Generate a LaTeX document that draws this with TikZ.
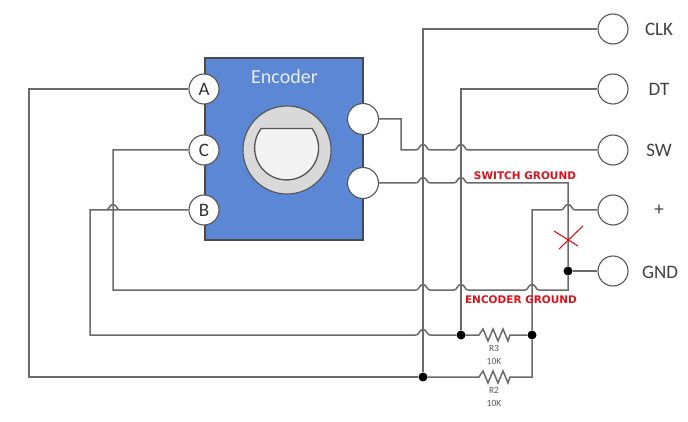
\documentclass[tikz,border=0pt]{standalone}
\usepackage{fontspec}
\setmainfont{Carlito}
\newfontfamily\redfont{DejaVu Sans}
\definecolor{wirecol}{HTML}{6A6A6A}
\definecolor{boxblue}{HTML}{5B87D5}
\definecolor{redlabel}{HTML}{E0101A}
\tikzset{
  wire/.style={draw=wirecol, line width=1.5pt, line join=miter},
  portcirc/.style={circle, draw=wirecol!80!black, line width=1.1pt, fill=white, inner sep=0pt, minimum size=30pt, text=black!80, font=\fontsize{19}{19}\selectfont},
  sidetext/.style={text=black!75, font=\fontsize{19}{19}\selectfont},
  dotnode/.style={circle, fill=black, inner sep=0pt, minimum size=9pt},
  redtext/.style={text=redlabel, font=\redfont\bfseries\fontsize{10.5}{11}\selectfont},
  smalltext/.style={text=black!65, font=\fontsize{9.5}{10}\selectfont}
}
% bump of a wire over a crossing one, going left to right
\newcommand{\hop}[2]{-- (#1-7,#2) .. controls (#1-3.5,#2) and (#1-4,#2-5.5) .. (#1,#2-5.5) .. controls (#1+4,#2-5.5) and (#1+3.5,#2) .. (#1+7,#2)}
% resistor zigzag
\newcommand{\zigzag}[1]{-- (479,#1) -- (483,#1-6) -- (488,#1+6) -- (493,#1-6) -- (498,#1+6) -- (503,#1-6) -- (508,#1+6) -- (510,#1)}

\begin{document}
\begin{tikzpicture}[x=1pt, y=-1pt]
    \useasboundingbox (0,0) rectangle (688,422);

    % encoder body
    \draw[fill=boxblue, draw=wirecol!70!black, line width=1.2pt] (205,58) rectangle (363,240);
    \node[text=white!85!boxblue, font=\fontsize{20}{20}\selectfont] (encoder) at (284.5,77) {Encoder};
    % knob
    \node[circle, fill=black!15, draw=wirecol!80!black, line width=1.1pt, minimum size=88pt, inner sep=0pt] (knob) at (287,150) {};
    \draw[fill=black!5, draw=wirecol!80!black, line width=1.3pt] (312,128.5) arc[start angle=-37.4, end angle=217.4, radius=32] -- cycle;

    % encoder pins
    \node[portcirc] (pinA) at (204,89) {A};
    \node[portcirc] (pinC) at (204,150) {C};
    \node[portcirc] (pinB) at (204,210) {B};
    \node[portcirc, minimum size=31pt] (pinS) at (363,119) {};
    \node[portcirc, minimum size=31pt] (pinG) at (363,183) {};

    % header pins
    \node[portcirc] (clk) at (613,29) {};
    \node[portcirc] (dt) at (613,89) {};
    \node[portcirc] (sw) at (613,150) {};
    \node[portcirc] (plus) at (613,210) {};
    \node[portcirc] (gnd) at (613,271) {};
    \node[sidetext] (clktext) at (659,29) {CLK};
    \node[sidetext] (dttext) at (659,89) {DT};
    \node[sidetext] (swtext) at (659,150) {SW};
    \node[sidetext] (plustext) at (659,210) {+};
    \node[sidetext] (gndtext) at (660,272) {GND};

    % junctions
    \node[dotnode] (dotclk) at (423,377) {};
    \node[dotnode] (dotdt) at (461,335) {};
    \node[dotnode] (dotplus) at (532,335) {};
    \node[dotnode] (dotgnd) at (568,271) {};

    % wires
    \draw[wire] (clk) -| (dotclk);
    \draw[wire] (dt) -| (dotdt);
    \draw[wire] (pinS) -- (401,119) -- (401,150) \hop{423}{150} \hop{461}{150} -- (sw);
    \draw[wire] (pinG) \hop{423}{183} \hop{461}{183} -- (568,183) -- (dotgnd);
    \draw[wire] (dotgnd) -- (gnd);
    \draw[wire] (dotplus) -- (532,210) \hop{568}{210} -- (plus);
    \draw[wire] (pinA) -- (29,89) -- (29,377) -- (dotclk);
    \draw[wire] (dotclk) \zigzag{377} -- (532,377) -- (dotplus);
    \draw[wire] (dotdt) \zigzag{335} -- (dotplus);
    \draw[wire] (pinC) -- (113,150) -- (113,290) \hop{423}{290} \hop{461}{290} \hop{532}{290} -- (568,290) -- (dotgnd);
    \draw[wire] (pinB) \hop{113}{210} -- (90,210) -- (90,335) \hop{423}{335} -- (dotdt);

    % red cross
    \draw[redlabel, line width=1.1pt] (554,231) -- (578,246);
    \draw[redlabel, line width=1.1pt] (583,226) -- (559,249);

    % labels
    \node[redtext] (swground) at (525,176) {SWITCH GROUND};
    \node[redtext] (encground) at (521,300) {ENCODER GROUND};
    \node[smalltext] (rthree) at (494,348) {R3};
    \node[smalltext] (rthreeval) at (494,361) {10K};
    \node[smalltext] (rtwo) at (494,390) {R2};
    \node[smalltext] (rtwoval) at (494,403) {10K};
\end{tikzpicture}
\end{document}
